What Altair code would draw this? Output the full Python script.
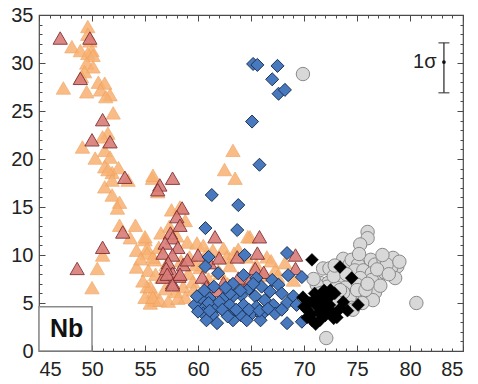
import altair as alt
import pandas as pd

# ---------------- data ----------------
orange_x = [49.6, 49.6, 49.8, 48.1, 48.9, 50.0, 49.6, 50.1, 49.5, 50.1, 49.3, 49.0, 50.6, 51.2, 47.3,
            49.5, 50.8, 51.7, 51.3, 52.0, 51.5, 51.0, 49.1, 50.3, 51.2, 51.7, 51.2, 51.9, 52.5, 51.5,
            51.9, 51.2, 53.4, 55.7, 55.75, 56.2, 51.9, 52.6, 52.4, 52.6, 54.1, 53.6, 55.0, 54.2, 55.2,
            51.0, 50.5, 54.2, 55.9, 50.0, 55.2, 55.75, 55.0, 55.9, 55.5,
            63.3, 62.5, 63.5, 58.3, 57.5, 58.8, 55.0, 64.9, 59.0, 59.9, 62.4, 55.2, 55.75, 59.2, 55.3,
            56.6, 59.1, 55.5, 55.75, 56.4, 58.6, 58.8, 60.8, 62.7, 64.6, 62.1, 64.7, 66.3, 69.0, 57.0,
            56.0, 57.9, 59.5, 60.2, 61.4, 63.0, 63.8, 65.5, 66.5, 67.3, 57.3, 56.5, 58.0, 60.5, 59.6,
            57.2, 58.1, 56.9, 61.0, 62.8, 64.0, 65.8, 67.5, 54.6, 54.8, 56.3, 58.4, 59.8, 60.9,
            61.9, 63.4, 66.9, 68.2]
orange_y = [33.8, 33.0, 32.3, 31.7, 31.3, 31.3, 31.0, 30.8, 30.0, 29.6, 29.1, 28.6, 28.0, 27.9, 27.4,
            27.0, 27.2, 26.7, 26.5, 24.8, 22.7, 22.3, 21.25, 20.1, 20.9, 20.2, 19.2, 18.6, 19.1, 18.9,
            17.8, 17.1, 17.8, 18.0, 18.3, 16.6, 16.25, 15.5, 14.9, 13.1, 13.1, 11.8, 11.6, 10.5, 10.7,
            10.0, 8.6, 8.75, 9.5, 6.6, 6.7, 6.1, 5.6, 5.3, 5.0,
            20.9, 18.9, 18.0, 15.0, 14.7, 13.6, 11.9, 11.9, 11.35, 11.25, 10.7, 10.2, 9.8, 9.8, 8.4,
            7.7, 8.1, 6.7, 5.6, 5.3, 6.7, 5.6, 10.2, 9.8, 9.8, 8.1, 11.9, 7.9, 7.4, 9.0,
            8.0, 6.2, 7.2, 8.7, 10.5, 8.9, 10.6, 9.0, 9.8, 8.5, 13.0, 12.3, 12.0, 11.0, 6.4,
            5.2, 5.5, 6.5, 7.5, 7.0, 7.0, 7.3, 7.8, 9.6, 7.3, 10.8, 9.4, 9.0, 9.6,
            8.4, 10.2, 9.4, 9.2]

red_x = [47.0, 49.8, 48.9, 51.0, 50.0, 51.7, 53.1, 56.4, 57.6, 56.2, 52.9, 51.0, 48.6, 58.5, 58.0,
         58.3, 57.4, 57.6, 56.9, 58.1, 56.7, 57.6, 61.6, 57.2, 58.6, 60.0, 57.6, 56.7, 57.6, 61.1,
         62.4, 63.7, 65.4, 64.9, 60.4, 63.8, 65.8, 65.6, 69.2, 69.2, 58.2, 57.0, 59.0, 60.8, 62.0,
         63.0, 66.2, 61.8, 57.1, 58.3, 57.6]
red_y = [32.6, 32.6, 28.4, 24.1, 22.0, 21.8, 18.1, 17.3, 18.0, 16.8, 12.4, 10.8, 8.6, 14.9, 14.0,
         13.1, 12.3, 11.8, 11.25, 10.8, 10.2, 10.0, 11.9, 9.2, 9.0, 10.0, 8.1, 7.7, 7.1, 9.2,
         7.1, 9.8, 8.6, 7.4, 7.7, 7.6, 11.9, 10.2, 10.0, 8.6, 7.8, 8.6, 9.5, 6.7, 9.7,
         6.8, 8.2, 6.3, 8.0, 8.0, 6.9]

blue_x = [65.2, 65.6, 67.5, 67.0, 67.6, 68.2, 65.1, 65.8, 61.3, 63.8, 60.7, 63.7, 68.4, 64.4, 61.0,
          60.7, 61.9, 64.3, 65.5, 67.0, 68.5, 69.8, 67.6, 66.0, 64.8, 66.8, 67.9, 69.0, 65.4, 66.3,
          64.1, 63.3, 62.4, 61.1, 60.2, 59.7, 60.7, 61.8, 63.0, 64.3, 65.5, 67.1, 68.4, 69.3, 60.5,
          61.4, 62.7, 64.0, 65.1, 66.0, 67.3, 67.9, 63.3, 64.6, 65.9, 64.8, 68.4, 69.8, 60.0, 60.8,
          61.8, 61.0, 62.0, 63.6, 62.3, 64.0, 63.0, 65.8, 66.6, 62.8, 61.1, 59.9, 60.6, 61.5, 63.3,
          62.6, 65.2]
blue_y = [29.9, 29.8, 29.7, 28.3, 26.8, 27.2, 23.9, 19.4, 16.25, 15.2, 12.8, 12.6, 10.2, 10.0, 9.8,
          8.8, 8.1, 7.9, 7.6, 7.4, 7.9, 7.7, 6.9, 6.7, 6.5, 6.2, 6.0, 5.7, 5.7, 5.3,
          5.8, 5.7, 5.5, 5.5, 5.5, 4.8, 4.6, 4.6, 4.8, 4.8, 4.6, 4.8, 5.0, 4.8, 3.9,
          3.75, 3.9, 3.75, 3.9, 3.75, 3.9, 4.3, 3.2, 3.2, 3.2, 4.3, 2.9, 3.05, 4.1, 3.2,
          2.9, 5.0, 5.1, 4.3, 4.3, 6.3, 6.0, 4.2, 4.4, 3.6, 4.2, 5.7, 6.3, 6.7, 7.0,
          6.6, 7.0]

black_x = [70.75, 73.4, 74.5, 72.5, 72.9, 69.9, 73.7, 75.1, 74.1, 73.1, 71.5, 70.75, 70.5, 70.3, 71.0,
           71.2, 71.6, 71.8, 72.0, 71.4, 70.7, 72.3, 72.4, 72.6, 71.0, 70.3, 72.0, 71.1, 72.8, 73.4,
           70.0, 71.9]
black_y = [9.5, 8.75, 7.6, 6.35, 6.0, 5.6, 5.1, 4.8, 4.2, 3.5, 3.2, 3.2, 5.0, 4.3, 5.4,
           4.7, 5.8, 5.1, 4.4, 4.0, 3.8, 5.5, 4.8, 4.1, 6.0, 3.5, 3.7, 2.8, 3.4, 4.4,
           4.6, 6.3]

gray_x = [69.9, 76.0, 76.0, 75.3, 80.6, 72.1, 71.8, 72.4, 73.7, 74.3, 74.5, 75.1, 74.8, 75.6, 76.3,
          76.7, 77.5, 78.4, 78.8, 78.2, 78.6, 76.4, 77.0, 76.4, 73.4, 71.5, 72.3, 73.2, 74.4, 75.3,
          72.2, 75.0, 75.9, 73.1, 73.9, 76.7, 74.5, 75.5, 76.5, 74.6, 75.5, 74.3, 71.2, 71.8, 73.4,
          74.5, 73.7, 71.5, 73.4, 75.0, 75.8, 74.6, 77.6, 77.8, 72.8, 70.9, 76.9, 79.0, 77.2,
          78.0, 72.9, 73.0, 74.0, 76.0, 75.2, 77.4]
gray_y = [28.85, 12.4, 11.75, 11.1, 5.0, 1.35, 8.6, 8.6, 9.6, 9.0, 9.5, 9.0, 8.4, 8.4, 9.5,
          9.0, 9.5, 9.7, 8.8, 8.6, 7.6, 8.1, 7.7, 7.4, 7.6, 7.1, 7.1, 7.2, 7.1, 7.6,
          6.7, 6.9, 6.7, 6.6, 6.6, 6.1, 5.8, 5.8, 5.3, 4.8, 5.0, 5.6, 6.9, 6.1, 5.6,
          4.5, 6.1, 6.0, 6.35, 6.35, 6.35, 4.3, 8.2, 9.0, 7.8, 7.5, 8.5, 9.3, 6.8,
          8.0, 8.9, 5.2, 8.0, 7.0, 10.1, 10.0]

# annotations
nb_label = ["Nb"]
nb_box_x = [45]
nb_box_x2 = [50]
nb_box_y = [0]
nb_box_y2 = [4.6]
nb_text_x = [47.6]
nb_text_y = [2.3]

sigma_label = ["1σ"]
sigma_x = [83.2]
sigma_lo = [26.9]
sigma_hi = [32.1]
sigma_mid = [30.1]
sigma_text_x = [82.5]

x_domain = [45, 85]
y_domain = [0, 35]
x_major = [45, 50, 55, 60, 65, 70, 75, 80, 85]
y_major = [0, 5, 10, 15, 20, 25, 30, 35]
x_minor = list(range(45, 86))
y_minor = list(range(0, 36))

# ---------------- chart ----------------
W, H = 424, 336
FONT = "Arial, Liberation Sans, sans-serif"
FRAME = "#4a4a4a"

xs = alt.Scale(domain=x_domain, nice=False, zero=False)
ys = alt.Scale(domain=y_domain, nice=False, zero=False)

tick_size = {"condition": {"test": "datum.value % 5 === 0", "value": 6}, "value": 3}


def label_axis(orient, values, pad):
    return alt.Axis(orient=orient, values=values, ticks=False, domain=False, grid=False,
                    title=None, labelFontSize=20, labelFont=FONT, labelColor="#222222",
                    labelPadding=pad)


def tick_axis(orient, values, offset):
    return alt.Axis(orient=orient, values=values, labels=False, domain=False, grid=False,
                    title=None, ticks=True, tickColor=FRAME, tickWidth=1,
                    tickSize=tick_size, offset=offset)


def pts(xv, yv):
    return pd.DataFrame({"x": xv, "y": yv})


orange = alt.Chart(pts(orange_x, orange_y)).mark_point(
    shape="triangle-up", filled=True, size=205, fill="#F8B172", stroke="#EFA25E",
    strokeWidth=0.8, opacity=0.85
).encode(
    x=alt.X("x:Q", scale=xs, axis=label_axis("bottom", x_major, 8)),
    y=alt.Y("y:Q", scale=ys, axis=label_axis("left", y_major, 6)),
)

red = alt.Chart(pts(red_x, red_y)).mark_point(
    shape="triangle-up", filled=True, size=205, fill="#D97C78", stroke="#7E2E30",
    strokeWidth=1, opacity=0.9
).encode(
    x=alt.X("x:Q", scale=xs, axis=tick_axis("top", x_minor, -H)),
    y=alt.Y("y:Q", scale=ys, axis=tick_axis("right", y_minor, -W)),
)

gray = alt.Chart(pts(gray_x, gray_y)).mark_point(
    shape="circle", filled=True, size=180, fill="#D8D8D8", stroke="#8A8A8A",
    strokeWidth=1, opacity=1
).encode(
    x=alt.X("x:Q", scale=xs, axis=tick_axis("bottom", x_minor, -H)),
    y=alt.Y("y:Q", scale=ys, axis=tick_axis("left", y_minor, -W)),
)

blue = alt.Chart(pts(blue_x, blue_y)).mark_point(
    shape="diamond", filled=True, size=170, fill="#4878BE", stroke="#1D3454",
    strokeWidth=1, opacity=1
).encode(
    x=alt.X("x:Q", scale=xs, axis=None),
    y=alt.Y("y:Q", scale=ys, axis=None),
)

black = alt.Chart(pts(black_x, black_y)).mark_point(
    shape="diamond", filled=True, size=165, fill="#000000", stroke="#000000",
    strokeWidth=0.5, opacity=1
).encode(
    x=alt.X("x:Q", scale=xs, axis=None),
    y=alt.Y("y:Q", scale=ys, axis=None),
)

nb_df = pd.DataFrame({"x": nb_box_x, "x2": nb_box_x2, "y": nb_box_y, "y2": nb_box_y2,
                      "tx": nb_text_x, "ty": nb_text_y, "label": nb_label})
nb_box = alt.Chart(nb_df).mark_rect(fill="white", stroke="#8a8a8a", strokeWidth=1.5).encode(
    x=alt.X("x:Q", scale=xs, axis=None), x2="x2:Q",
    y=alt.Y("y:Q", scale=ys, axis=None), y2="y2:Q",
)
nb_text = alt.Chart(nb_df).mark_text(fontSize=25, fontWeight="bold", font=FONT,
                                     color="#111111", align="center", baseline="middle").encode(
    x=alt.X("tx:Q", scale=xs, axis=None),
    y=alt.Y("ty:Q", scale=ys, axis=None),
    text="label:N",
)

sig_df = pd.DataFrame({"x": sigma_x, "lo": sigma_lo, "hi": sigma_hi, "mid": sigma_mid,
                       "tx": sigma_text_x, "label": sigma_label})
sig_bar = alt.Chart(sig_df).mark_rule(color="#333333", strokeWidth=1.3).encode(
    x=alt.X("x:Q", scale=xs, axis=None),
    y=alt.Y("lo:Q", scale=ys, axis=None), y2="hi:Q",
)
sig_cap_lo = alt.Chart(sig_df).mark_tick(color="#333333", orient="horizontal", size=11,
                                         thickness=1.5).encode(
    x=alt.X("x:Q", scale=xs, axis=None),
    y=alt.Y("lo:Q", scale=ys, axis=None),
)
sig_cap_hi = alt.Chart(sig_df).mark_tick(color="#333333", orient="horizontal", size=11,
                                         thickness=1.5).encode(
    x=alt.X("x:Q", scale=xs, axis=None),
    y=alt.Y("hi:Q", scale=ys, axis=None),
)
sig_dot = alt.Chart(sig_df).mark_point(filled=True, size=14, color="#111111", opacity=1).encode(
    x=alt.X("x:Q", scale=xs, axis=None),
    y=alt.Y("mid:Q", scale=ys, axis=None),
)
sig_text = alt.Chart(sig_df).mark_text(fontSize=20, font=FONT, color="#222222",
                                       align="right", baseline="middle").encode(
    x=alt.X("tx:Q", scale=xs, axis=None),
    y=alt.Y("mid:Q", scale=ys, axis=None),
    text="label:N",
)

chart = alt.layer(
    orange, red, gray, blue, black, nb_box, nb_text,
    sig_bar, sig_cap_lo, sig_cap_hi, sig_dot, sig_text
).resolve_axis(
    x="independent", y="independent"
).properties(
    width=W, height=H,
    autosize=alt.AutoSizeParams(type="none"),
    padding={"left": 39, "top": 15, "right": 15, "bottom": 33},
    background="white",
).configure_view(
    stroke=FRAME, strokeWidth=1.2
)

chart.save("out.html", embed_options={"renderer": "svg", "actions": False})
